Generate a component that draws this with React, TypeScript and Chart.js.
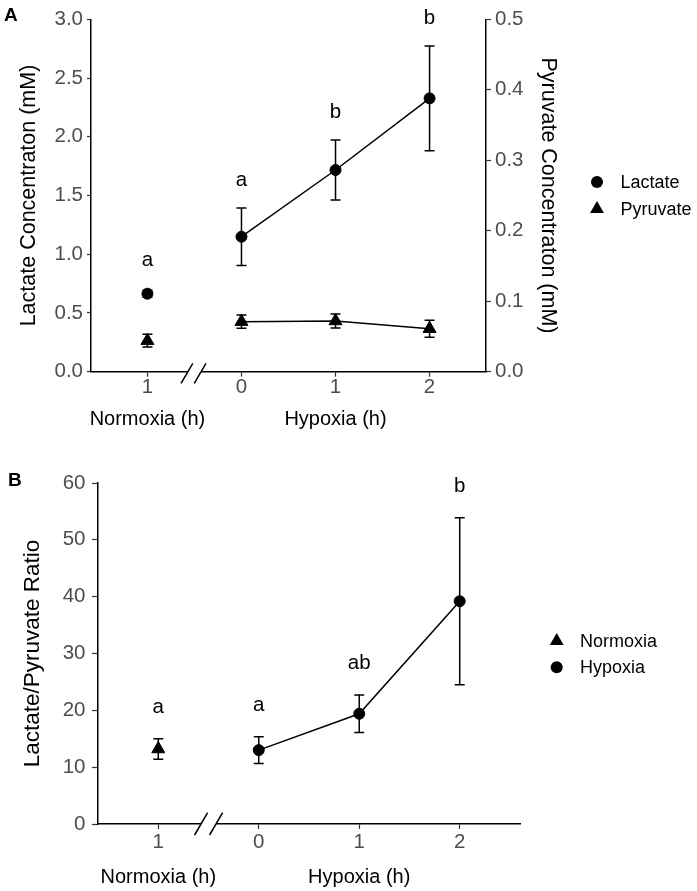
import React, { useEffect, useRef } from "react";
import { Chart, registerables } from "chart.js";

Chart.register(...registerables);

const FONT = '"Liberation Sans", Arial, Helvetica, sans-serif';
const TICK_TEXT = "#4d4d4d";
const TICK_MARK = "#333333";
const TICK_SIZE = 20.5;

// ---- shared x categories ----
const xValues = [0, 1, 2, 3];
const xTickLabels = ["1", "0", "1", "2"];
const groupNames = ["Normoxia (h)", "Hypoxia (h)"];
const groupCenters = [0, 2];
const breakAt = 0.5;

// ---- Panel A ----
const lactateMean = [0.664, 1.149, 1.717, 2.327];
const lactateSE = [0.03, 0.244, 0.255, 0.445];
const pyruvateMean = [0.044, 0.071, 0.072, 0.061];
const pyruvateSE = [0.009, 0.0095, 0.01, 0.012];
const lettersA = ["a", "a", "b", "b"];
const legendA = ["Lactate", "Pyruvate"];

// ---- Panel B ----
const normoxiaX = [0];
const normoxiaRatio = [13.2];
const normoxiaSE = [1.8];
const hypoxiaX = [1, 2, 3];
const hypoxiaRatio = [13.0, 19.4, 39.2];
const hypoxiaSE = [2.35, 3.3, 14.7];
const lettersB = ["a", "a", "ab", "b"];
const legendB = ["Normoxia", "Hypoxia"];

type ErrSpec = { xs: number[]; means: number[]; errs: number[]; axis: string };

function drawMarker(ctx: CanvasRenderingContext2D, shape: string, x: number, y: number, r: number) {
  ctx.beginPath();
  if (shape === "circle") {
    ctx.arc(x, y, r, 0, Math.PI * 2);
  } else {
    for (let k = 0; k < 3; k++) {
      const a = (k * 2 * Math.PI) / 3;
      const px = x + Math.sin(a) * r;
      const py = y - Math.cos(a) * r;
      if (k === 0) ctx.moveTo(px, py);
      else ctx.lineTo(px, py);
    }
    ctx.closePath();
  }
  ctx.fillStyle = "#000";
  ctx.fill();
}

function makePlugins(opts: {
  errs: ErrSpec[];
  cap: number;
  letters: string[];
  letterSource: { xs: number[]; means: number[]; errs: number[]; radii: number[]; axis: string };
  letterGap: number;
  legend: { label: string; shape: string; x: number; y: number; r: number }[];
  legendTextX: number;
  groupBaseline: number;
  panelLabel: string;
  panelX: number;
  panelY: number;
  breakGap: number;
  breakUp: number;
  breakDown: number;
}) {
  return [
    {
      id: "errorBars",
      beforeDatasetsDraw(chart: any) {
        const ctx = chart.ctx;
        const xs = chart.scales.x;
        ctx.save();
        ctx.strokeStyle = "#000";
        ctx.lineWidth = 1.5;
        opts.errs.forEach((s) => {
          const ys = chart.scales[s.axis];
          s.xs.forEach((xv, i) => {
            const px = xs.getPixelForValue(xv);
            const top = ys.getPixelForValue(s.means[i] + s.errs[i]);
            const bot = ys.getPixelForValue(s.means[i] - s.errs[i]);
            ctx.beginPath();
            ctx.moveTo(px, top);
            ctx.lineTo(px, bot);
            ctx.moveTo(px - opts.cap, top);
            ctx.lineTo(px + opts.cap, top);
            ctx.moveTo(px - opts.cap, bot);
            ctx.lineTo(px + opts.cap, bot);
            ctx.stroke();
          });
        });
        ctx.restore();
      },
    },
    {
      id: "decor",
      afterDraw(chart: any) {
        const ctx = chart.ctx;
        const xs = chart.scales.x;
        const area = chart.chartArea;
        ctx.save();
        // significance letters
        const ls = opts.letterSource;
        const ys = chart.scales[ls.axis];
        ctx.fillStyle = "#000";
        ctx.font = `20.5px ${FONT}`;
        ctx.textAlign = "center";
        ctx.textBaseline = "alphabetic";
        ls.xs.forEach((xv, i) => {
          const px = xs.getPixelForValue(xv);
          const errTop = ys.getPixelForValue(ls.means[i] + ls.errs[i]);
          const markTop = ys.getPixelForValue(ls.means[i]) - ls.radii[i];
          const top = Math.min(errTop, markTop);
          ctx.fillText(opts.letters[i], px, top - opts.letterGap);
        });
        // group labels under the x axis
        ctx.font = `20px ${FONT}`;
        groupNames.forEach((g, i) => {
          ctx.fillText(g, xs.getPixelForValue(groupCenters[i]), opts.groupBaseline);
        });
        // axis break
        const cx = xs.getPixelForValue(breakAt);
        const by = area.bottom;
        ctx.fillStyle = "#fff";
        ctx.fillRect(cx - opts.breakGap, by - 2, opts.breakGap * 2, 4);
        ctx.strokeStyle = "#000";
        ctx.lineWidth = 1.5;
        const slope = 0.585;
        [-opts.breakGap, opts.breakGap].forEach((off) => {
          const x0 = cx + off;
          ctx.beginPath();
          ctx.moveTo(x0 - opts.breakDown * slope, by + opts.breakDown);
          ctx.lineTo(x0 + opts.breakUp * slope, by - opts.breakUp);
          ctx.stroke();
        });
        // legend
        ctx.font = `18px ${FONT}`;
        ctx.textAlign = "left";
        ctx.textBaseline = "middle";
        opts.legend.forEach((it) => {
          drawMarker(ctx, it.shape, it.x, it.y, it.r);
          ctx.fillStyle = "#000";
          ctx.fillText(it.label, opts.legendTextX, it.y + 1);
        });
        // panel label
        ctx.fillStyle = "#000";
        ctx.font = `bold 19px ${FONT}`;
        ctx.textBaseline = "alphabetic";
        ctx.fillText(opts.panelLabel, opts.panelX, opts.panelY);
        ctx.restore();
      },
    },
  ];
}

function xScale(tickLen: number, pad: number, height: number) {
  return {
    type: "linear",
    position: "bottom",
    min: -0.6,
    max: 3.6,
    afterBuildTicks: (s: any) => {
      s.ticks = xValues.map((v) => ({ value: v }));
    },
    afterFit: (s: any) => {
      s.height = height;
    },
    ticks: {
      autoSkip: false,
      maxRotation: 0,
      callback: (_v: any, i: number) => xTickLabels[i],
      color: TICK_TEXT,
      font: { family: FONT, size: TICK_SIZE, lineHeight: 1 },
      padding: pad,
    },
    grid: { drawOnChartArea: false, tickLength: tickLen, tickColor: TICK_MARK, tickWidth: 1.2 },
    border: { color: "#000", width: 1.5 },
  };
}

export default function App() {
  const refA = useRef<HTMLCanvasElement>(null);
  const refB = useRef<HTMLCanvasElement>(null);

  useEffect(() => {
    const triangleR = 7.5;
    const circleR = 5.5;

    const chartA = new Chart(refA.current!, {
      type: "line",
      data: {
        datasets: [
          {
            label: legendA[0],
            data: xValues.map((x, i) => ({ x, y: lactateMean[i] })),
            yAxisID: "y",
            borderColor: "#000",
            borderWidth: 1.5,
            pointStyle: "circle",
            pointRadius: circleR,
            pointBorderWidth: 1,
            pointBackgroundColor: "#000",
            pointBorderColor: "#000",
            segment: { borderColor: (c: any) => (c.p0DataIndex === 0 ? "rgba(0,0,0,0)" : "#000") },
          },
          {
            label: legendA[1],
            data: xValues.map((x, i) => ({ x, y: pyruvateMean[i] })),
            yAxisID: "y1",
            borderColor: "#000",
            borderWidth: 1.5,
            pointStyle: "triangle",
            pointRadius: triangleR,
            pointBorderWidth: 1,
            pointBackgroundColor: "#000",
            pointBorderColor: "#000",
            segment: { borderColor: (c: any) => (c.p0DataIndex === 0 ? "rgba(0,0,0,0)" : "#000") },
          },
        ],
      } as any,
      options: {
        responsive: false,
        animation: false,
        layout: { padding: { left: 0, right: 136, top: 19.3, bottom: 0 } },
        plugins: { legend: { display: false }, tooltip: { enabled: false } },
        scales: {
          x: xScale(5, 0.5, 68.3),
          y: {
            position: "left",
            min: 0,
            max: 3,
            afterFit: (s: any) => {
              s.width = 91;
            },
            ticks: {
              stepSize: 0.5,
              callback: (v: any) => Number(v).toFixed(1),
              color: TICK_TEXT,
              font: { family: FONT, size: TICK_SIZE, lineHeight: 1 },
              padding: 4,
            },
            grid: { drawOnChartArea: false, tickLength: 4, tickColor: TICK_MARK, tickWidth: 1.2 },
            border: { color: "#000", width: 1.5 },
            title: {
              display: true,
              text: "Lactate Concentraton (mM)",
              color: "#000",
              font: { family: FONT, size: 21.5 },
              padding: { top: 16, bottom: 0 },
            },
          },
          y1: {
            position: "right",
            min: 0,
            max: 0.5,
            afterFit: (s: any) => {
              s.width = 75;
            },
            ticks: {
              stepSize: 0.1,
              callback: (v: any) => Number(v).toFixed(1),
              color: TICK_TEXT,
              font: { family: FONT, size: TICK_SIZE, lineHeight: 1 },
              padding: 4,
            },
            grid: { drawOnChartArea: false, tickLength: 5, tickColor: TICK_MARK, tickWidth: 1.2 },
            border: { color: "#000", width: 1.5 },
            title: {
              display: true,
              text: "Pyruvate Concentraton (mM)",
              color: "#000",
              font: { family: FONT, size: 21.5 },
              padding: { top: 0, bottom: 0 },
            },
          },
        },
      } as any,
      plugins: makePlugins({
        errs: [
          { xs: xValues, means: lactateMean, errs: lactateSE, axis: "y" },
          { xs: xValues, means: pyruvateMean, errs: pyruvateSE, axis: "y1" },
        ],
        cap: 5,
        letters: lettersA,
        letterSource: {
          xs: xValues,
          means: lactateMean,
          errs: lactateSE,
          radii: xValues.map(() => circleR + 0.5),
          axis: "y",
        },
        letterGap: 22,
        legend: [
          { label: legendA[0], shape: "circle", x: 597, y: 182, r: 6 },
          { label: legendA[1], shape: "triangle", x: 597, y: 209, r: 8 },
        ],
        legendTextX: 620.5,
        groupBaseline: 425,
        panelLabel: "A",
        panelX: 4,
        panelY: 21,
        breakGap: 6.6,
        breakUp: 8.4,
        breakDown: 11.6,
      }) as any,
    });

    const allBX = [...normoxiaX, ...hypoxiaX];
    const allBMean = [...normoxiaRatio, ...hypoxiaRatio];
    const allBErr = [...normoxiaSE, ...hypoxiaSE];

    const chartB = new Chart(refB.current!, {
      type: "line",
      data: {
        datasets: [
          {
            label: legendB[0],
            data: normoxiaX.map((x, i) => ({ x, y: normoxiaRatio[i] })),
            borderColor: "#000",
            borderWidth: 1.5,
            showLine: false,
            pointStyle: "triangle",
            pointRadius: triangleR,
            pointBorderWidth: 1,
            pointBackgroundColor: "#000",
            pointBorderColor: "#000",
          },
          {
            label: legendB[1],
            data: hypoxiaX.map((x, i) => ({ x, y: hypoxiaRatio[i] })),
            borderColor: "#000",
            borderWidth: 1.5,
            pointStyle: "circle",
            pointRadius: circleR,
            pointBorderWidth: 1,
            pointBackgroundColor: "#000",
            pointBorderColor: "#000",
          },
        ],
      } as any,
      options: {
        responsive: false,
        animation: false,
        layout: { padding: { left: 0, right: 177, top: 43, bottom: 0 } },
        plugins: { legend: { display: false }, tooltip: { enabled: false } },
        scales: {
          x: xScale(5, 3.25, 67),
          y: {
            position: "left",
            min: 0,
            max: 60,
            afterFit: (s: any) => {
              s.width = 98;
            },
            ticks: {
              stepSize: 10,
              color: TICK_TEXT,
              font: { family: FONT, size: TICK_SIZE, lineHeight: 1 },
              padding: 6.5,
            },
            grid: { drawOnChartArea: false, tickLength: 6, tickColor: TICK_MARK, tickWidth: 1.2 },
            border: { color: "#000", width: 1.5 },
            title: {
              display: true,
              text: "Lactate/Pyruvate Ratio",
              color: "#000",
              font: { family: FONT, size: 22.5 },
              padding: { top: 19, bottom: 0 },
            },
          },
        },
      } as any,
      plugins: makePlugins({
        errs: [
          { xs: normoxiaX, means: normoxiaRatio, errs: normoxiaSE, axis: "y" },
          { xs: hypoxiaX, means: hypoxiaRatio, errs: hypoxiaSE, axis: "y" },
        ],
        cap: 5,
        letters: lettersB,
        letterSource: {
          xs: allBX,
          means: allBMean,
          errs: allBErr,
          radii: [triangleR + 0.5, circleR + 0.5, circleR + 0.5, circleR + 0.5],
          axis: "y",
        },
        letterGap: 26,
        legend: [
          { label: legendB[0], shape: "triangle", x: 556.7, y: 201, r: 8 },
          { label: legendB[1], shape: "circle", x: 556.7, y: 227.3, r: 6 },
        ],
        legendTextX: 580,
        groupBaseline: 442.7,
        panelLabel: "B",
        panelX: 8,
        panelY: 46,
        breakGap: 7.5,
        breakUp: 11.3,
        breakDown: 11,
      }) as any,
    });

    return () => {
      chartA.destroy();
      chartB.destroy();
    };
  }, []);

  return (
    <div style={{ position: "absolute", left: 0, top: 0, width: 697, height: 891, background: "#fff" }}>
      <canvas ref={refA} width={697} height={440} style={{ position: "absolute", left: 0, top: 0, display: "block" }} />
      <canvas ref={refB} width={697} height={451} style={{ position: "absolute", left: 0, top: 440, display: "block" }} />
    </div>
  );
}
